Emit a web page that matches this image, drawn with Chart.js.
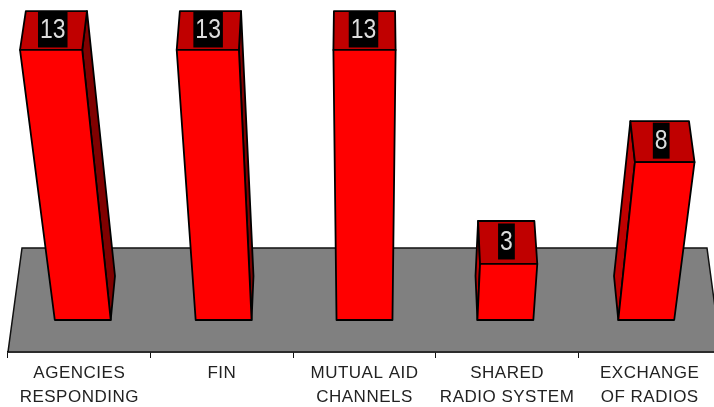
<!DOCTYPE html>
<html>
<head>
<meta charset="utf-8">
<title>Radio interoperability</title>
<script src="https://cdn.jsdelivr.net/npm/chart.js@4"></script>
<style>
    html, body { margin: 0; padding: 0; background: #fff; overflow: hidden; }
    #wrap { width: 714px; height: 407px; overflow: hidden; }
    canvas { display: block; }
</style>
</head>
<body>
<div id="wrap"><canvas id="grafik" width="730" height="407"></canvas></div>
<script>
const categories = [
    ["AGENCIES", "RESPONDING"],
    ["FIN"],
    ["MUTUAL AID", "CHANNELS"],
    ["SHARED", "RADIO SYSTEM"],
    ["EXCHANGE", "OF RADIOS"],
];
const values = [13, 13, 13, 3, 8];

const FONT = "'Liberation Sans', Arial, sans-serif";

// depth of each plane behind the axis line, in px
const DEPTH_FRONT = 32;
const DEPTH_BACK = 76;
const DEPTH_FLOOR = 104;

// fake perspective, the original is a tilted 3d chart
function projector(chart) {
    const sx = chart.scales.x;
    const axisY = sx.top;
    const midX = (sx.left + sx.right) / 2;
    return (x, u, d) => {
        const h = u * (1 + 0.000633 * u);
        const f = (1 - 0.000378 * d) * (1 + 0.00041 * h);
        return [midX + (x - midX) * f, axisY - d * (1 - 0.000425 * h) - h];
    };
}

function poly(ctx, pts, fill) {
    ctx.beginPath();
    pts.forEach((p, i) => (i ? ctx.lineTo(p[0], p[1]) : ctx.moveTo(p[0], p[1])));
    ctx.closePath();
    ctx.fillStyle = fill;
    ctx.fill();
    ctx.stroke();
}

const bars3d = {
    id: "bars3d",
    beforeDraw(chart) {
        // axis labels in the original are spaced a bit wider
        chart.ctx.letterSpacing = "0.5px";
    },
    beforeDatasetsDraw(chart) {
        // floor
        const { ctx } = chart;
        const sx = chart.scales.x;
        const p = projector(chart);
        ctx.save();
        ctx.strokeStyle = "#111";
        ctx.lineWidth = 1.5;
        poly(ctx, [
            p(sx.left, 0, DEPTH_FLOOR),
            p(sx.right, 0, DEPTH_FLOOR),
            p(sx.right, 0, 0),
            p(sx.left, 0, 0),
        ], "#808080");
        ctx.restore();
    },
    beforeDatasetDraw(chart, args) {
        const { ctx } = chart;
        const sx = chart.scales.x;
        const midX = (sx.left + sx.right) / 2;
        const p = projector(chart);
        const meta = chart.getDatasetMeta(args.index);

        ctx.save();
        ctx.lineJoin = "round";
        ctx.strokeStyle = "#000";
        ctx.lineWidth = 1.8;
        ctx.letterSpacing = "0px";

        meta.data.forEach((el, i) => {
            const l = el.x - el.width / 2;
            const r = el.x + el.width / 2;
            const u = el.base - el.y;

            // side wall, only the one facing the middle can be seen
            if (el.x < midX - 1) {
                poly(ctx, [p(r, 0, DEPTH_FRONT), p(r, 0, DEPTH_BACK), p(r, u, DEPTH_BACK), p(r, u, DEPTH_FRONT)], "#800000");
            } else if (el.x > midX + 1) {
                poly(ctx, [p(l, 0, DEPTH_FRONT), p(l, 0, DEPTH_BACK), p(l, u, DEPTH_BACK), p(l, u, DEPTH_FRONT)], "#c00000");
            }
            // top
            poly(ctx, [p(l, u, DEPTH_FRONT), p(l, u, DEPTH_BACK), p(r, u, DEPTH_BACK), p(r, u, DEPTH_FRONT)], "#c00000");
            // front
            poly(ctx, [p(l, 0, DEPTH_FRONT), p(r, 0, DEPTH_FRONT), p(r, u, DEPTH_FRONT), p(l, u, DEPTH_FRONT)], chart.data.datasets[args.index].backgroundColor);

            // value label in black box on the top face, digits are narrow
            const a = p(el.x, u, DEPTH_FRONT);
            const b = p(el.x, u, DEPTH_BACK);
            const cx = (a[0] + b[0]) / 2 - 1;
            const cy = (a[1] + b[1]) / 2 - 1;
            const text = String(values[i]);
            ctx.font = "27px " + FONT;
            const w = ctx.measureText(text).width * 0.85 + 4;
            ctx.fillStyle = "#000";
            ctx.fillRect(cx - w / 2, cy - 18, w, 36);
            ctx.save();
            ctx.translate(cx, cy + 1);
            ctx.scale(0.85, 1);
            ctx.fillStyle = "#dddddd";
            ctx.textAlign = "center";
            ctx.textBaseline = "middle";
            ctx.fillText(text, 0, 0);
            ctx.restore();
        });
        ctx.restore();
        return false; // bars are done here, skip the flat ones
    },
};

new Chart(document.getElementById("grafik"), {
    type: "bar",
    data: {
        labels: categories,
        datasets: [
            {
                data: values,
                backgroundColor: "#ff0000",
                borderColor: "#000",
                barPercentage: 0.397,
                categoryPercentage: 1,
            },
        ],
    },
    options: {
        responsive: false,
        animation: false,
        layout: { padding: { left: 8, right: 9, top: 0, bottom: 0 } },
        plugins: {
            legend: { display: false },
            tooltip: { enabled: false },
        },
        scales: {
            x: {
                afterFit: (s) => { s.height = 55; },
                border: { color: "#111", width: 1.5 },
                grid: { drawOnChartArea: false, color: "#111", tickLength: 6 },
                ticks: {
                    color: "#222",
                    padding: 3,
                    maxRotation: 0,
                    autoSkip: false,
                    font: { family: FONT, size: 17, lineHeight: 1.41 },
                },
            },
            y: { display: false, min: 0, max: 19.23 },
        },
    },
    plugins: [bars3d],
});
</script>
</body>
</html>
